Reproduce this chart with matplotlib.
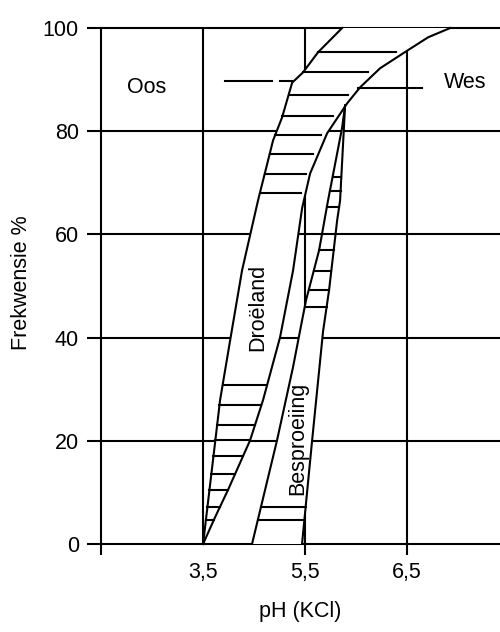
import matplotlib
matplotlib.use('Agg')
import matplotlib.pyplot as plt
import numpy as np

plt.rcParams['font.family'] = ['Liberation Sans', 'DejaVu Sans']

# x axis in grid units: 0 = left axis, 1 = "3,5" line, 2 = "5,5" line, 3 = "6,5" line
x_ticks = [0, 1, 2, 3]
x_labels = ['', '3,5', '5,5', '6,5']
y_ticks = [0, 20, 40, 60, 80, 100]
v_grid = [1, 2, 3]

# Droeland band (frequency %, x)
droe_left_y = [0, 20, 27.9, 40, 53, 66.6, 78.2, 82.7, 89.4, 91.4, 95.3, 100]
droe_left_x = [1.0, 1.12, 1.167, 1.27, 1.382, 1.539, 1.686, 1.775, 1.873, 1.98, 2.127, 2.363]
droe_right_y = [0, 5.2, 10.5, 20.1, 27.9, 40.1, 53.0, 65.1, 71.8, 79.6, 85.4, 88.5, 92.2, 95.6, 98.2, 100]
droe_right_x = [1.0, 1.118, 1.245, 1.461, 1.588, 1.755, 1.882, 1.971, 2.049, 2.216, 2.412, 2.539,
                2.735, 3.0, 3.206, 3.422]
droe_hatch_lo = [4.6, 7.2, 10.5, 13.6, 17.0, 20.1, 23.0, 26.9, 30.8]
droe_hatch_hi = [68.0, 71.8, 75.5, 79.2, 82.9, 87.1, 91.4, 95.3]

# Besproeiing band
bes_left_y = [0, 20.1, 34.3, 43.4, 47.3, 56.9, 66.6, 80.7, 85.0]
bes_left_x = [1.48, 1.725, 1.882, 1.971, 2.010, 2.137, 2.225, 2.363, 2.392]
bes_right_y = [0, 20.1, 41.2, 49.2, 62.7, 66.6, 85.0]
bes_right_x = [1.97, 2.069, 2.176, 2.235, 2.314, 2.343, 2.392]
bes_hatch = [4.6, 7.2, 45.9, 49.2, 52.9, 56.9, 60.0, 65.4, 68.4, 71.1]

# pointer lines for Oos / Wes
oos_y = 89.8
oos_segs = [(1.216, 1.676), (1.755, 1.873)]
wes_y = 88.3
wes_seg = (2.52, 3.147)

lw = 1.5
XMAX = 3.91

fig = plt.figure(figsize=(5, 6.32), dpi=100)
ax = fig.add_axes([0.202, 0.1392, 0.798, 0.8165])
ax.set_xlim(0, XMAX)
ax.set_ylim(0, 100)
for s in ['top', 'right', 'bottom']:
    ax.spines[s].set_visible(False)
ax.spines['left'].set_linewidth(lw)

# grid
ax.hlines(y_ticks, 0, XMAX, color='k', lw=lw, clip_on=False, zorder=1)
ax.vlines(v_grid, 0, 100, color='k', lw=lw, zorder=1)

# white band fills hide the grid
ax.fill(np.r_[droe_left_x, droe_right_x[::-1]], np.r_[droe_left_y, droe_right_y[::-1]],
        color='white', zorder=2, lw=0)
ax.fill(np.r_[bes_left_x, bes_right_x[::-1]], np.r_[bes_left_y, bes_right_y[::-1]],
        color='white', zorder=2, lw=0)

# hatching
for y in droe_hatch_lo:
    xa = np.interp(y, droe_left_y, droe_left_x)
    xb = np.interp(y, droe_right_y, droe_right_x)
    ax.plot([xa, xb], [y, y], color='k', lw=lw, zorder=3)
for y in droe_hatch_hi:
    xa = np.interp(y, droe_left_y, droe_left_x)
    xb = np.interp(y, droe_right_y, droe_right_x)
    ax.plot([xa, xa + 0.9 * (xb - xa)], [y, y], color='k', lw=lw, zorder=3)
for y in bes_hatch:
    xa = np.interp(y, bes_left_y, bes_left_x)
    xb = np.interp(y, bes_right_y, bes_right_x)
    ax.plot([xa, xb], [y, y], color='k', lw=lw, zorder=3)

# boundary curves
ax.plot(droe_left_x, droe_left_y, color='k', lw=lw, zorder=4, clip_on=False)
ax.plot(droe_right_x, droe_right_y, color='k', lw=lw, zorder=4, clip_on=False)
ax.plot(bes_left_x, bes_left_y, color='k', lw=lw, zorder=4)
ax.plot(bes_right_x, bes_right_y, color='k', lw=lw, zorder=4)

for a, b in oos_segs:
    ax.plot([a, b], [oos_y, oos_y], color='k', lw=lw, zorder=4)
ax.plot(wes_seg, [wes_y, wes_y], color='k', lw=lw, zorder=4)

fs = 15.5
ax.text(0.451, 88.5, 'Oos', fontsize=fs, ha='center', va='center')
ax.text(3.569, 89.4, 'Wes', fontsize=fs, ha='center', va='center')
ax.text(1.539, 45.9, 'Droëland', fontsize=fs, ha='center', va='center', rotation=90, zorder=5)
ax.text(1.931, 20.5, 'Besproeiing', fontsize=fs, ha='center', va='center', rotation=90, zorder=5)

ax.set_xticks(x_ticks)
ax.set_xticklabels(x_labels)
ax.set_yticks(y_ticks)
ax.set_yticklabels([str(v) for v in y_ticks])
ax.tick_params(axis='y', length=10, width=lw, pad=6, labelsize=fs)
ax.tick_params(axis='x', length=8, width=lw, pad=5, labelsize=fs)
# no tick mark under the 3,5 line
ax.xaxis.get_major_ticks()[1].tick1line.set_visible(False)

fig.text(22 / 500, 1 - 283 / 632, 'Frekwensie %', rotation=90, fontsize=fs,
         ha='center', va='center')
fig.text(300 / 500, 1 - 612 / 632, 'pH (KCl)', fontsize=fs, ha='center', va='center')

fig.savefig('out.png', dpi=100)
